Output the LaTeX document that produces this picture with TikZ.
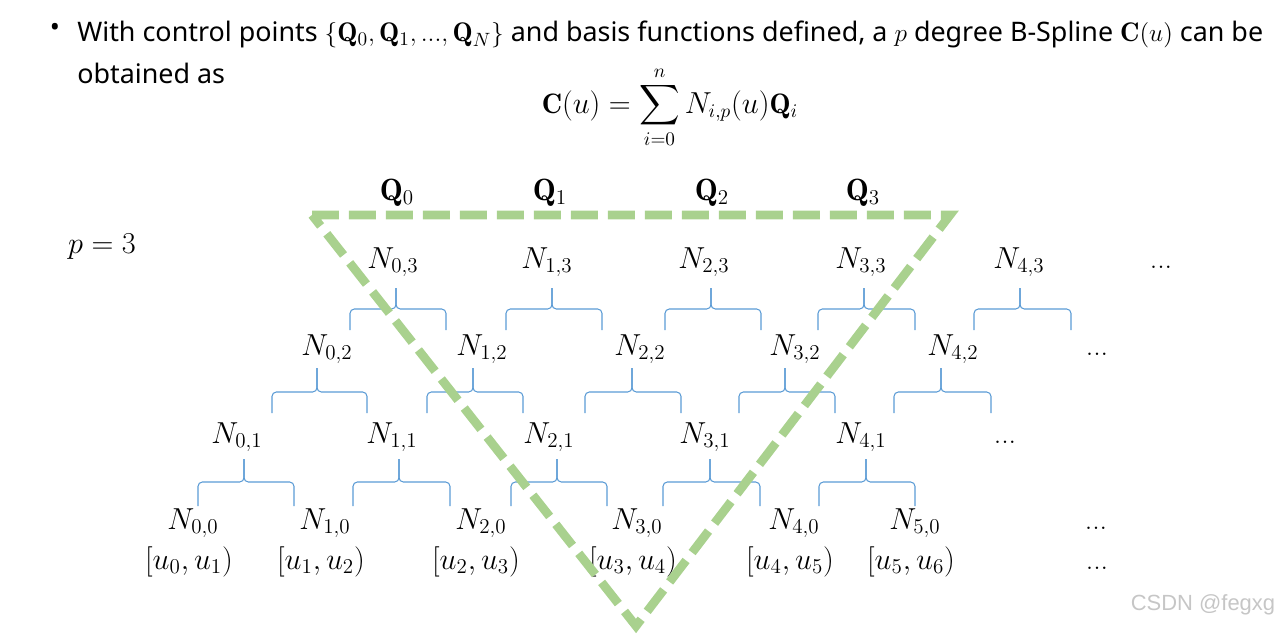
\documentclass[tikz,border=0pt]{standalone}
\usepackage{amsmath}
\usepackage{amssymb}
\usepackage{fontspec}
\newfontfamily\slidefont{Noto Sans}
\newfontfamily\markfont{Liberation Sans}
\definecolor{hullgreen}{HTML}{A9D18E}
\definecolor{bracecol}{HTML}{5B9BD5}

% brace from two children up to the parent: x1, x2, tip x, tip y, mid y, end y
\newcommand{\nbrace}[6]{%
  \draw[brc] (#1,#6) |- (#3,#5) -- (#3,#4);
  \draw[brc] (#2,#6) |- (#3,#5) -- (#3,#4);}

\begin{document}
\begin{tikzpicture}[x=0.02cm, y=-0.02cm,
    txt/.style={font=\slidefont\fontsize{15.3}{18}\selectfont, inner sep=0pt},
    lbl/.style={font=\fontsize{17}{20}\selectfont, inner sep=0pt, anchor=base},
    ctrl/.style={font=\fontsize{17.5}{21}\selectfont, inner sep=0pt, anchor=base},
    brc/.style={draw=bracecol, line width=0.6pt, rounded corners=2.5pt},
    hull/.style={draw=hullgreen, line width=5pt, dash pattern=on 0.54cm off 0.2cm}
]
\useasboundingbox (0,0) rectangle (1281,635);

% heading
\node[txt] (bullet) at (55,30) {\textbullet};
\node[txt, anchor=base west] (line1) at (77,42) {With control points $\{\mathbf{Q}_0,\mathbf{Q}_1,\mathrm{...},\mathbf{Q}_N\}$ and basis functions defined, a $p$ degree B-Spline $\mathbf{C}(u)$ can be};
\node[txt, anchor=base west] (line2) at (77,84) {obtained as};
\node[font=\fontsize{16}{19}\selectfont, inner sep=0pt, anchor=base] (formula) at (670,113)
  {$\displaystyle \mathbf{C}(u)=\sum_{i=0}^{n}N_{i,p}(u)\mathbf{Q}_i$};

\node[lbl, font=\fontsize{18}{21}\selectfont] (deg) at (102,253) {$p=3$};

% control points
\node[ctrl] (Q0) at (397,200) {$\mathbf{Q}_0$};
\node[ctrl] (Q1) at (550,200) {$\mathbf{Q}_1$};
\node[ctrl] (Q2) at (712,200) {$\mathbf{Q}_2$};
\node[ctrl] (Q3) at (863,200) {$\mathbf{Q}_3$};

% basis functions, degree 3
\node[lbl] (N03) at (393,268) {$N_{0,3}$};
\node[lbl] (N13) at (547,268) {$N_{1,3}$};
\node[lbl] (N23) at (704,268) {$N_{2,3}$};
\node[lbl] (N33) at (861,268) {$N_{3,3}$};
\node[lbl] (N43) at (1019,268) {$N_{4,3}$};
\node[lbl] (D3) at (1161,268) {...};

% degree 2
\node[lbl] (N02) at (327,355) {$N_{0,2}$};
\node[lbl] (N12) at (482,355) {$N_{1,2}$};
\node[lbl] (N22) at (640,355) {$N_{2,2}$};
\node[lbl] (N32) at (795,355) {$N_{3,2}$};
\node[lbl] (N42) at (953,355) {$N_{4,2}$};
\node[lbl] (D2) at (1097,355) {...};

% degree 1
\node[lbl] (N01) at (237,443) {$N_{0,1}$};
\node[lbl] (N11) at (392,443) {$N_{1,1}$};
\node[lbl] (N21) at (549,443) {$N_{2,1}$};
\node[lbl] (N31) at (705,443) {$N_{3,1}$};
\node[lbl] (N41) at (861,443) {$N_{4,1}$};
\node[lbl] (D1) at (1005,443) {...};

% degree 0
\node[lbl] (N00) at (193,529) {$N_{0,0}$};
\node[lbl] (N10) at (325,529) {$N_{1,0}$};
\node[lbl] (N20) at (481,529) {$N_{2,0}$};
\node[lbl] (N30) at (637,529) {$N_{3,0}$};
\node[lbl] (N40) at (794,529) {$N_{4,0}$};
\node[lbl] (N50) at (915,529) {$N_{5,0}$};
\node[lbl] (D0) at (1096,529) {...};

% knot spans
\node[lbl] (U0) at (189,569) {$[u_0,u_1)$};
\node[lbl] (U1) at (321,569) {$[u_1,u_2)$};
\node[lbl] (U2) at (476,569) {$[u_2,u_3)$};
\node[lbl] (U3) at (633,569) {$[u_3,u_4)$};
\node[lbl] (U4) at (790,569) {$[u_4,u_5)$};
\node[lbl] (U5) at (911,569) {$[u_5,u_6)$};
\node[lbl] (DU) at (1097,569) {...};

% braces
\nbrace{350}{446}{396}{288}{309}{330}
\nbrace{506}{602}{552}{288}{309}{330}
\nbrace{665}{761}{711}{288}{309}{330}
\nbrace{818}{915}{864}{288}{309}{330}
\nbrace{974}{1071}{1020}{288}{309}{330}

\nbrace{272}{367}{317}{368}{392}{413}
\nbrace{427}{523}{473}{368}{392}{413}
\nbrace{585}{681}{632}{368}{392}{413}
\nbrace{739}{835}{785}{368}{392}{413}
\nbrace{894}{991}{941}{368}{392}{413}

\nbrace{198}{294}{244}{459}{482}{506}
\nbrace{353}{450}{399}{459}{482}{506}
\nbrace{511}{607}{557}{459}{482}{506}
\nbrace{663}{760}{710}{459}{482}{506}
\nbrace{819}{915}{866}{459}{482}{506}

% support of the control points
\coordinate (hullA) at (312,215);
\coordinate (hullB) at (950,215);
\coordinate (hullC) at (636,626);
\draw[hull] (hullA) -- (hullB) -- (hullC) -- cycle;

\node[font=\markfont\fontsize{12.5}{14}\selectfont, text=gray!45] (mark) at (1203,605) {CSDN @fegxg};
\end{tikzpicture}
\end{document}
